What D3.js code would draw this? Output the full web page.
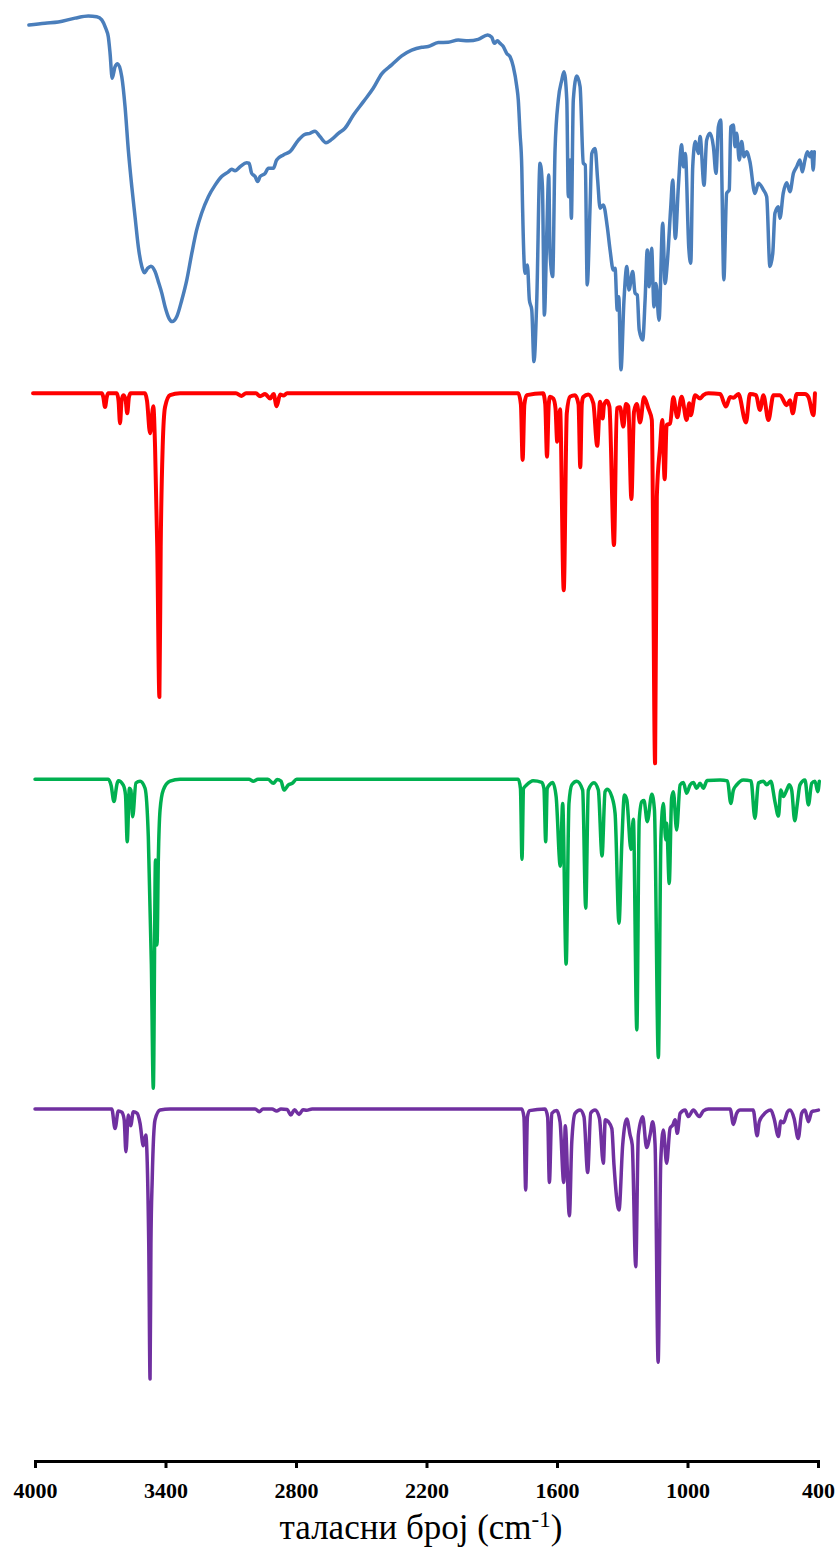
<!DOCTYPE html>
<html>
<head>
<meta charset="utf-8">
<script src="https://cdn.jsdelivr.net/npm/d3@7"></script>
<style>
  html, body { margin: 0; padding: 0; background: #ffffff; }
  svg { display: block; }
</style>
</head>
<body>
<div id="chart"></div>
<script>
// ---------- DATA ----------
const xTicks = [4000, 3400, 2800, 2200, 1600, 1000, 400];
const xLabel = "таласни број (cm";
const xLabelSup = "-1";

// Experimental spectrum: [wavenumber (cm-1), transmittance (%)]
const experimental = [
[4028,96.4],[3954,96.9],[3893,97.2],[3816,98.3],[3755,98.9],[3716,98.7],[3693,97.8],[3675,95.5],[3663,93.1],[3655,88.6],[3645,81.6],[3632,84.8],[3620,85.6],[3601,82.0],[3586,73.7],[3571,61.7],[3555,51.5],[3540,43.1],[3525,34.8],[3509,29.3],[3497,27.6],[3482,28.8],[3467,29.4],[3448,27.9],[3433,25.1],[3417,21.9],[3402,18.1],[3384,14.9],[3369,14.0],[3348,15.4],[3325,20.0],[3302,25.6],[3279,33.0],[3257,39.4],[3234,44.1],[3203,48.7],[3172,51.9],[3142,54.3],[3111,55.6],[3096,56.3],[3080,55.9],[3057,57.0],[3027,58.1],[3016,58.0],[3004,55.2],[2988,54.3],[2976,52.9],[2965,54.3],[2942,55.2],[2927,56.6],[2904,56.6],[2889,58.9],[2858,60.3],[2828,61.2],[2789,64.4],[2759,66.0],[2736,66.3],[2713,66.9],[2690,65.4],[2662,63.7],[2636,64.6],[2605,66.3],[2575,67.7],[2536,71.4],[2490,75.1],[2445,78.8],[2406,82.8],[2360,85.3],[2314,87.8],[2268,89.4],[2222,90.2],[2192,90.4],[2146,91.5],[2100,91.6],[2054,92.2],[2008,92.0],[1962,92.4],[1919,93.6],[1900,93.0],[1888,91.3],[1874,92.0],[1862,91.3],[1847,90.4],[1831,88.5],[1816,87.6],[1801,84.8],[1785,79.3],[1778,75.6],[1770,66.3],[1762,57.0],[1759,47.8],[1747,27.4],[1736,29.7],[1727,20.0],[1716,17.2],[1706,2.9],[1693,20.0],[1678,58.0],[1667,51.5],[1658,15.8],[1647,38.5],[1638,54.7],[1632,33.0],[1620,26.5],[1609,61.7],[1594,75.6],[1578,81.1],[1568,83.4],[1555,75.6],[1548,48.7],[1540,58.9],[1534,42.7],[1525,75.6],[1509,82.2],[1494,79.3],[1479,58.0],[1470,57.5],[1461,24.2],[1448,45.9],[1440,60.7],[1425,62.1],[1413,53.3],[1402,45.5],[1387,46.4],[1369,40.4],[1356,33.9],[1341,28.3],[1333,28.8],[1323,17.2],[1316,20.9],[1306,0.6],[1292,20.0],[1279,29.3],[1269,22.8],[1252,27.9],[1241,21.9],[1231,21.4],[1222,11.7],[1206,8.9],[1195,20.0],[1185,33.9],[1176,23.7],[1165,34.4],[1154,18.1],[1145,24.6],[1131,14.4],[1114,41.3],[1103,24.6],[1093,30.2],[1077,45.9],[1068,53.3],[1056,37.1],[1042,51.5],[1027,63.1],[1019,57.0],[1010,60.7],[994,34.4],[985,30.2],[976,57.0],[964,64.0],[950,60.7],[942,65.4],[924,51.9],[912,64.4],[896,66.3],[881,62.6],[869,55.2],[858,68.1],[847,70.0],[841,50.1],[833,25.6],[820,49.6],[808,50.6],[801,68.1],[789,68.6],[782,62.6],[774,66.3],[762,58.9],[751,64.0],[740,59.8],[728,61.2],[713,58.4],[690,49.6],[674,52.4],[651,50.6],[636,48.7],[621,29.3],[608,33.0],[598,44.1],[582,45.9],[575,42.7],[560,49.6],[544,52.6],[529,50.1],[513,55.2],[498,57.0],[483,58.9],[472,55.6],[460,58.9],[449,61.2],[437,59.8],[429,61.2],[422,56.1],[417,61.2]
];

// Calculated spectra: [wavenumber (cm-1), relative intensity (%)]
const calcRed = [
[4009,0],[3700,0],[3693,0],[3686,1.0],[3678,3.7],[3670,1.0],[3663,0],[3624,0],[3616,2.0],[3609,8.1],[3602,2.0],[3594,0.5],[3584,1.5],[3576,5.4],[3568,1.0],[3560,0],[3494,0],[3485,2.0],[3471,10.8],[3456,3.5],[3448,14.5],[3438,41.5],[3428,82.1],[3422,41.5],[3413,14.5],[3402,3.7],[3379,0.5],[3333,0],[3076,0],[3050,0.7],[3030,0],[2984,0],[2965,0.8],[2942,0.2],[2919,1.4],[2903,0.2],[2889,3.5],[2873,0.3],[2858,0.6],[2841,0],[1790,0],[1778,0],[1766,3],[1758,18.0],[1750,3],[1739,0.5],[1664,0],[1654,3],[1646,17.1],[1638,3],[1632,0.9],[1617,1.4],[1607,4],[1599,13.1],[1586,4.3],[1569,53.2],[1555,5.4],[1540,0.9],[1517,0.5],[1501,3],[1493,20.0],[1486,3],[1479,1.0],[1456,0.3],[1433,2.7],[1415,14.2],[1402,2.3],[1390,6.8],[1384,3.2],[1371,2.0],[1359,3.6],[1338,41.0],[1325,4.1],[1310,3.8],[1295,9.0],[1283,2.9],[1272,3.6],[1258,28.6],[1246,5.0],[1233,2.9],[1218,7.9],[1200,1.1],[1180,4.1],[1164,7.2],[1149,100],[1141,27.9],[1126,14.4],[1116,7.2],[1105,23.2],[1096,8.6],[1080,8.1],[1065,1.1],[1047,6.5],[1027,0.9],[1004,7.2],[992,2.7],[985,5.9],[965,0.5],[942,1.4],[927,0.5],[904,0],[850,0.2],[823,3.6],[804,1.0],[789,1.2],[766,0.2],[731,7.9],[713,0.2],[685,0.5],[667,4.5],[651,0.5],[628,7.2],[605,0.5],[575,0.5],[544,3.2],[529,1.9],[516,5.4],[498,0.2],[460,0.2],[444,1.0],[421,5.9],[414,0]
];

const calcGreen = [
[4000,0],[3716,0],[3663,0],[3650,2.0],[3637,7.2],[3623,1.5],[3617,0.5],[3594,1.9],[3584,5],[3576,20.2],[3566,2.9],[3559,3.5],[3551,12.1],[3536,1.2],[3517,0.6],[3494,2.9],[3479,18.6],[3465,60],[3456,100],[3446,26.1],[3439,53.6],[3433,26],[3425,9.9],[3410,3.4],[3379,0.6],[3333,0],[3016,0],[2996,0.6],[2975,0],[2929,0],[2904,1.3],[2887,0.1],[2869,0.6],[2855,3.5],[2835,1.8],[2817,1.3],[2797,0],[1790,0],[1778,0],[1768,3],[1761,25.9],[1754,3],[1739,1.8],[1710,0.5],[1670,1.0],[1660,3],[1652,20.2],[1645,3],[1635,1.8],[1620,1.0],[1604,5.6],[1585,28.1],[1574,7.8],[1558,59.8],[1545,7.8],[1532,1.8],[1509,0.6],[1482,3.5],[1468,41.7],[1456,3.5],[1430,1.1],[1410,3.5],[1393,24.8],[1379,4.0],[1369,3.2],[1348,5.6],[1333,11.0],[1315,46.6],[1302,20.7],[1290,5.1],[1279,6.7],[1260,22.7],[1249,12.9],[1233,81.1],[1222,13.2],[1210,7.2],[1200,6.9],[1185,13.7],[1164,4.8],[1152,9.9],[1134,90.0],[1122,18.6],[1111,7.8],[1100,19.6],[1096,14.2],[1084,33.7],[1073,6.1],[1065,4.0],[1050,16.4],[1034,1.8],[1019,1.0],[1004,4.5],[988,1.8],[973,1.0],[958,2.9],[942,1.3],[927,2.9],[910,0.4],[850,0.2],[816,0.5],[801,7.8],[789,3.5],[774,1.8],[743,0.2],[708,0.5],[690,12.6],[674,1.2],[651,0.6],[636,1.8],[617,0.6],[598,7.2],[582,11.9],[571,3.5],[559,5.6],[544,3.5],[532,1.8],[521,3.5],[507,13.4],[495,7.8],[483,1.8],[460,0.2],[444,8.3],[429,1.3],[414,0.6],[401,4.0],[394,0.6]
];

const calcPurple = [
[4000,0],[3660,0],[3647,0],[3632,7.2],[3617,0.7],[3601,1.2],[3590,4],[3582,15.8],[3571,2.2],[3560,6.2],[3548,1.0],[3530,1.6],[3517,5.3],[3502,13.6],[3491,9.6],[3477,50],[3471,100],[3467,50],[3461,25.7],[3448,4.0],[3425,0.4],[3379,0],[2988,0],[2969,1.0],[2952,0],[2910,0],[2889,0.7],[2869,0],[2841,0.2],[2824,2.2],[2807,0.3],[2786,2.0],[2768,0.3],[2751,0.5],[2726,0],[1790,0],[1762,0],[1752,3],[1744,30],[1736,3],[1727,0.6],[1655,0],[1643,3],[1635,27.2],[1624,1.6],[1601,0.6],[1586,4.7],[1569,27.2],[1562,6.2],[1543,39.5],[1532,12.1],[1517,1.6],[1494,0.4],[1476,2.9],[1459,23.5],[1445,1.5],[1425,0.4],[1405,3.4],[1387,20.1],[1378,4.0],[1364,4.7],[1348,7.2],[1338,20.7],[1315,37.4],[1298,13.3],[1279,3.7],[1264,9.6],[1254,13.3],[1238,58.4],[1226,9.6],[1206,2.9],[1188,14.3],[1172,9.6],[1160,4.7],[1149,13.3],[1135,93.8],[1123,19.5],[1111,7.8],[1096,20.1],[1080,7.1],[1068,6.0],[1057,4.0],[1047,9.0],[1034,1.6],[1011,0.4],[996,2.8],[973,0.4],[946,2.8],[927,0.7],[904,0],[804,0],[789,5.7],[774,1.6],[758,0.4],[698,0.4],[680,9.9],[670,4.7],[651,2.2],[636,1.0],[617,0.4],[602,3.5],[582,10.2],[571,4.4],[559,5.1],[540,1.0],[529,0.4],[510,3.5],[491,10.9],[475,1.6],[460,0.4],[444,4.7],[429,1.0],[414,0.7],[398,0.4]
];

// ---------- DRAWING ----------
const W = 839, H = 1549;
const svg = d3.select("#chart").append("svg")
  .attr("width", W).attr("height", H)
  .attr("viewBox", `0 0 ${W} ${H}`);
svg.append("rect").attr("width", W).attr("height", H).attr("fill", "#ffffff");

const x = d3.scaleLinear().domain([4000, 400]).range([35, 818]);

const panels = [
  { data: experimental, color: "#4a7ebb", width: 3.5, y: d3.scaleLinear().domain([0, 100]).range([372, 12]) },
  { data: calcRed,      color: "#ff0000", width: 4,   y: d3.scaleLinear().domain([0, 100]).range([393.3, 763.3]) },
  { data: calcGreen,    color: "#00b050", width: 3.5, y: d3.scaleLinear().domain([0, 100]).range([779.3, 1088.3]) },
  { data: calcPurple,   color: "#7030a0", width: 3.5, y: d3.scaleLinear().domain([0, 100]).range([1109, 1379]) }
];

panels.forEach(p => {
  const line = d3.line()
    .x(d => x(d[0]))
    .y(d => p.y(d[1]))
    .curve(d3.curveMonotoneX);
  svg.append("path")
    .datum(p.data)
    .attr("d", line)
    .attr("fill", "none")
    .attr("stroke", p.color)
    .attr("stroke-width", p.width)
    .attr("stroke-linejoin", "round")
    .attr("stroke-linecap", "round");
});

// X axis
const axisY = 1461;
const gx = svg.append("g")
  .attr("transform", `translate(0,${axisY})`)
  .call(d3.axisBottom(x).tickValues(xTicks).tickSize(7).tickSizeOuter(7).tickFormat(d3.format("d")))
  .attr("font-family", "'Liberation Serif', 'Times New Roman', serif")
  .attr("font-size", 22);
gx.select(".domain").attr("stroke", "#000").attr("stroke-width", 3);
gx.selectAll(".tick line").attr("stroke", "#000").attr("stroke-width", 3);
gx.selectAll(".tick text")
  .attr("y", 37).attr("dy", null)
  .attr("fill", "#000")
  .style("font-family", "'Liberation Serif', 'Times New Roman', serif")
  .style("font-weight", "bold")
  .style("font-size", "22px");

// Axis title
const title = svg.append("text")
  .attr("x", 421).attr("y", 1539)
  .attr("text-anchor", "middle")
  .attr("fill", "#000")
  .style("font-family", "'Liberation Serif', 'Times New Roman', serif")
  .style("font-size", "35px");
title.append("tspan").text(xLabel);
title.append("tspan").attr("dy", -12).style("font-size", "23px").text(xLabelSup);
title.append("tspan").attr("dy", 12).style("font-size", "35px").text(")");
</script>
</body>
</html>
